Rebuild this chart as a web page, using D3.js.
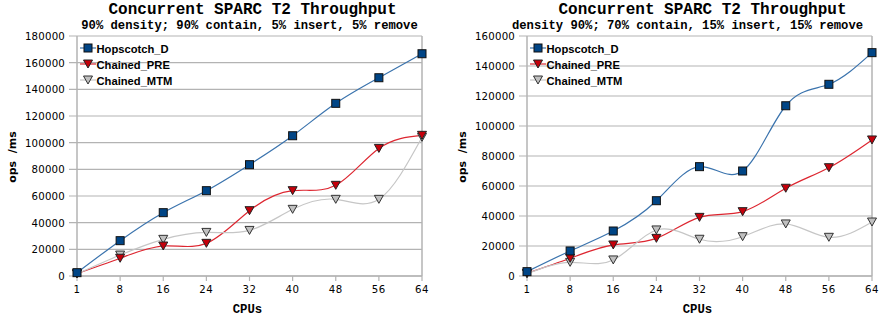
<!DOCTYPE html>
<html><head><meta charset="utf-8">
<script src="https://cdn.jsdelivr.net/npm/d3@7"></script>
<style>
body{margin:0;background:#fff;}
svg{display:block;}
</style></head>
<body>
<svg id="chart" width="882" height="321"></svg>
<script>
const cpus = ["1","8","16","24","32","40","48","56","64"];
const seriesNames = ["Hopscotch_D","Chained_PRE","Chained_MTM"];

const titleText = "Concurrent SPARC T2 Throughput";
const subtitleA = "90% density; 90% contain, 5% insert, 5% remove";
const subtitleB = "density 90%; 70% contain, 15% insert, 15% remove";

const hopscotchA = [2500, 26500, 47500, 64000, 83500, 105200, 129500, 148700, 166700];
const chainedPreA = [1800, 13300, 22500, 24500, 49000, 64000, 68000, 95700, 105500];
const chainedMtmA = [1500, 15700, 27500, 32700, 34200, 50000, 57500, 57500, 104000];
const yTicksA = [0,20000,40000,60000,80000,100000,120000,140000,160000,180000];

const hopscotchB = [2900, 16700, 30000, 50200, 72900, 70000, 113500, 127800, 148900];
const chainedPreB = [1800, 11800, 20700, 25100, 39100, 42900, 58500, 72200, 90700];
const chainedMtmB = [1500, 9100, 10700, 30700, 24500, 26200, 34700, 25800, 36000];
const yTicksB = [0,20000,40000,60000,80000,100000,120000,140000,160000];

const styles = [
  {line:"#3a73ad", fill:"#004586", stroke:"#111", shape:"square"},
  {line:"#dd2630", fill:"#c5000b", stroke:"#222", shape:"tri"},
  {line:"#c6c6c6", fill:"#c0c0c0", stroke:"#333", shape:"tri"}
];

const svg = d3.select("#chart");

function drawChart(ox, left, right, subtitle, subShift, seriesData, yTicks, yMax) {
  const g = svg.append("g").attr("transform", `translate(${ox},0)`);
  const x = d3.scalePoint().domain(cpus).range([left, right]);
  const y = d3.scaleLinear().domain([0, yMax]).range([276, 36]);
  const cx = (left + right) / 2;

  g.append("text").attr("x", cx + 3).attr("y", 13.5).attr("text-anchor","middle")
    .attr("font-family","Liberation Mono, monospace").attr("font-weight","bold")
    .attr("font-size", 16).attr("fill","#000").text(titleText);
  g.append("text").attr("x", cx + subShift).attr("y", 28.5).attr("text-anchor","middle")
    .attr("font-family","Liberation Mono, monospace").attr("font-weight","bold")
    .attr("font-size", 12.2).attr("fill","#000").text(subtitle);

  g.append("g").selectAll("line").data(yTicks).join("line")
    .attr("x1", left - 8).attr("x2", right)
    .attr("y1", d => y(d)).attr("y2", d => y(d))
    .attr("stroke","#b3b3b3").attr("stroke-width",1.2);
  g.append("line").attr("x1", right).attr("x2", right).attr("y1", 36).attr("y2", 276)
    .attr("stroke","#b3b3b3").attr("stroke-width",1.5);
  g.append("line").attr("x1", left).attr("x2", left).attr("y1", 36).attr("y2", 276)
    .attr("stroke","#b3b3b3").attr("stroke-width",1.5);
  g.append("g").selectAll("line").data(cpus).join("line")
    .attr("x1", d => x(d)).attr("x2", d => x(d)).attr("y1", 276).attr("y2", 281)
    .attr("stroke","#b3b3b3").attr("stroke-width",1.2);
  g.append("line").attr("x1", left).attr("x2", right).attr("y1", 276).attr("y2", 276)
    .attr("stroke","#b3b3b3").attr("stroke-width",1.5);

  g.append("g").selectAll("text").data(yTicks).join("text")
    .attr("x", left - 12).attr("y", d => y(d) + 4).attr("text-anchor","end")
    .attr("font-family","DejaVu Sans, sans-serif").attr("font-size",10.2)
    .attr("letter-spacing",0.2).attr("fill","#000").text(d => d);
  g.append("g").selectAll("text").data(cpus).join("text")
    .attr("x", d => x(d)).attr("y", 293).attr("text-anchor","middle")
    .attr("font-family","DejaVu Sans, sans-serif").attr("font-size",10.2)
    .attr("letter-spacing",0.6).attr("fill","#000").text(d => d);

  g.append("text").attr("x", cx - 2).attr("y", 313).attr("text-anchor","middle")
    .attr("font-family","Liberation Mono, monospace").attr("font-weight","bold")
    .attr("font-size",12.3).attr("fill","#000").text("CPUs");
  g.append("text").attr("transform", `translate(${left - 61},157) rotate(-90)`)
    .attr("text-anchor","middle").attr("xml:space","preserve")
    .attr("font-family","DejaVu Sans, sans-serif").attr("font-weight","bold")
    .attr("font-size",11).attr("fill","#000").text("ops  /ms");

  const line = d3.line().x((d,i) => x(cpus[i])).y(d => y(d)).curve(d3.curveNatural);

  seriesData.forEach((vals, si) => {
    g.append("path").attr("d", line(vals)).attr("fill","none")
      .attr("stroke", styles[si].line).attr("stroke-width",1.2);
  });
  function marker(sel, st, px, py) {
    if (st.shape === "square") {
      sel.append("rect").attr("x", px - 4).attr("y", py - 4).attr("width", 8).attr("height", 8)
        .attr("fill", st.fill).attr("stroke", st.stroke).attr("stroke-width", 1);
    } else {
      sel.append("path").attr("d", `M${px-4.5},${py-4}L${px+4.5},${py-4}L${px},${py+4}Z`)
        .attr("fill", st.fill).attr("stroke", st.stroke).attr("stroke-width", 1);
    }
  }
  [2,1,0].forEach(si => {
    const mg = g.append("g");
    seriesData[si].forEach((v, i) => marker(mg, styles[si], x(cpus[i]), y(v)));
  });

  const lg = g.append("g");
  seriesNames.forEach((name, si) => {
    const ly = 48 + si * 16;
    const mx = left + 11;
    lg.append("line").attr("x1", mx - 8).attr("x2", mx + 8).attr("y1", ly).attr("y2", ly)
      .attr("stroke", styles[si].line).attr("stroke-width", 1.2);
    marker(lg, styles[si], mx, ly);
    lg.append("text").attr("x", mx + 8.5).attr("y", ly + 4.5)
      .attr("font-family","Liberation Sans, Arial, sans-serif").attr("font-weight","bold")
      .attr("font-size", 11.2).attr("fill","#000").text(name);
  });
}

drawChart(0, 77, 422, subtitleA, 0, [hopscotchA, chainedPreA, chainedMtmA], yTicksA, 180000);
drawChart(441, 86, 431, subtitleB, -12, [hopscotchB, chainedPreB, chainedMtmB], yTicksB, 160000);
</script>
</body></html>
